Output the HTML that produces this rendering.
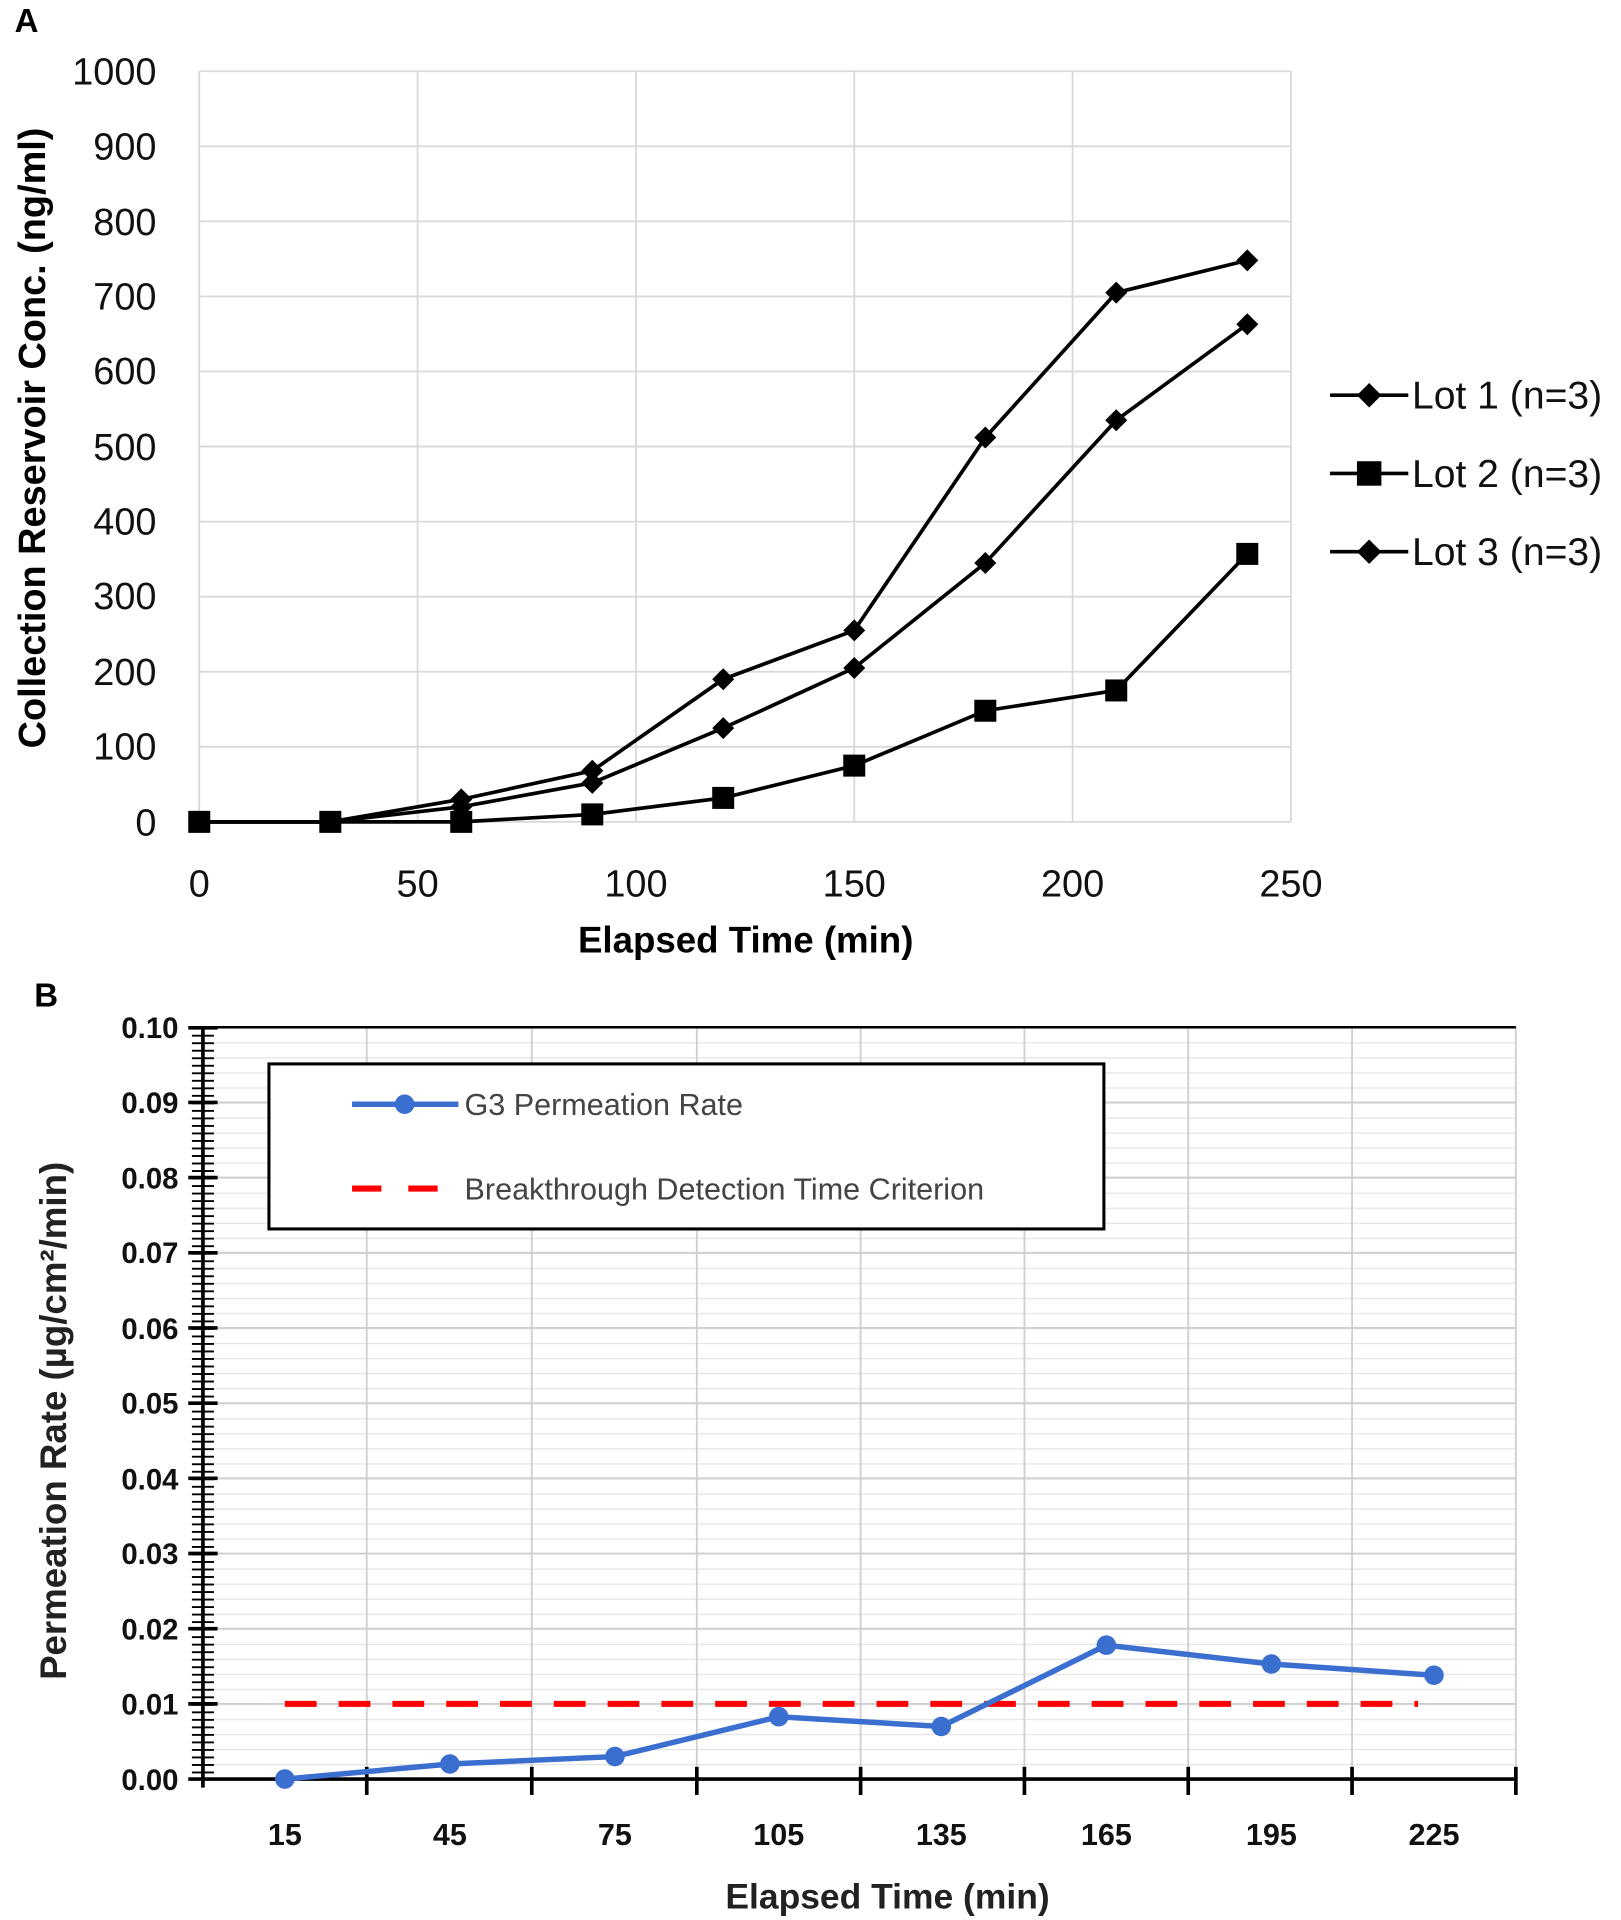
<!DOCTYPE html>
<html><head><meta charset="utf-8"><style>html,body{margin:0;padding:0;background:#fff}svg{display:block}</style></head>
<body>
<svg width="1621" height="1920" viewBox="0 0 1326 1570" xmlns="http://www.w3.org/2000/svg" font-family="Liberation Sans, sans-serif">
<defs>
<pattern id="yt" x="0" y="1455" width="20" height="6.15" patternUnits="userSpaceOnUse"><line x1="0" y1="0.5" x2="20" y2="0.5" stroke="#000" stroke-width="2"/></pattern>
<pattern id="mg" x="0" y="1455" width="1100" height="12.3" patternUnits="userSpaceOnUse"><line x1="0" y1="0.5" x2="1100" y2="0.5" stroke="#e4e4e4" stroke-width="1"/></pattern>
</defs>
<rect width="1326" height="1570" fill="#fff"/>
<!-- Chart A -->
<text x="12" y="26" font-size="27" font-weight="bold">A</text>
<g stroke="#d9d9d9" stroke-width="1.5">
<line x1="163" y1="58" x2="1056" y2="58"/><line x1="163" y1="119.4" x2="1056" y2="119.4"/><line x1="163" y1="180.8" x2="1056" y2="180.8"/><line x1="163" y1="242.2" x2="1056" y2="242.2"/><line x1="163" y1="303.6" x2="1056" y2="303.6"/><line x1="163" y1="365" x2="1056" y2="365"/><line x1="163" y1="426.4" x2="1056" y2="426.4"/><line x1="163" y1="487.8" x2="1056" y2="487.8"/><line x1="163" y1="549.2" x2="1056" y2="549.2"/><line x1="163" y1="610.6" x2="1056" y2="610.6"/><line x1="163" y1="672" x2="1056" y2="672"/>
<line x1="163" y1="58" x2="163" y2="672"/><line x1="341.6" y1="58" x2="341.6" y2="672"/><line x1="520.2" y1="58" x2="520.2" y2="672"/><line x1="698.8" y1="58" x2="698.8" y2="672"/><line x1="877.4" y1="58" x2="877.4" y2="672"/><line x1="1056" y1="58" x2="1056" y2="672"/>
</g>
<g font-size="31" text-anchor="end" fill="#111">
<text x="128" y="69">1000</text><text x="128" y="130">900</text><text x="128" y="192">800</text><text x="128" y="253">700</text><text x="128" y="314">600</text><text x="128" y="376">500</text><text x="128" y="437">400</text><text x="128" y="498">300</text><text x="128" y="560">200</text><text x="128" y="621">100</text><text x="128" y="683">0</text>
</g>
<g font-size="31" text-anchor="middle" fill="#111">
<text x="163" y="733">0</text><text x="341.6" y="733">50</text><text x="520.2" y="733">100</text><text x="698.8" y="733">150</text><text x="877.4" y="733">200</text><text x="1056" y="733">250</text>
</g>
<text x="610" y="779" font-size="30" font-weight="bold" text-anchor="middle">Elapsed Time (min)</text>
<text transform="translate(37,358) rotate(-90)" font-size="31" font-weight="bold" text-anchor="middle">Collection Reservoir Conc. (ng/ml)</text>
<g fill="none" stroke="#000" stroke-width="3">
<polyline points="163,672 270.2,672 377.3,653.6 484.5,630.2 591.6,555.3 698.8,515.4 806,357.6 913.1,239.1 1020.3,212.7"/>
<polyline points="163,672 270.2,672 377.3,659.7 484.5,640.1 591.6,595.3 698.8,546.1 806,460.2 913.1,343.5 1020.3,264.9"/>
<polyline points="163,672 270.2,672 377.3,672 484.5,665.9 591.6,652.4 698.8,626 806,581.1 913.1,564.5 1020.3,452.8"/>
</g>
<g fill="#000">
<path d="M163,663l9,9l-9,9l-9,-9z M270.2,663l9,9l-9,9l-9,-9z M377.3,644.6l9,9l-9,9l-9,-9z M484.5,621.2l9,9l-9,9l-9,-9z M591.6,546.3l9,9l-9,9l-9,-9z M698.8,506.4l9,9l-9,9l-9,-9z M806,348.6l9,9l-9,9l-9,-9z M913.1,230.1l9,9l-9,9l-9,-9z M1020.3,203.7l9,9l-9,9l-9,-9z"/>
<path d="M377.3,650.7l9,9l-9,9l-9,-9z M484.5,631.1l9,9l-9,9l-9,-9z M591.6,586.3l9,9l-9,9l-9,-9z M698.8,537.1l9,9l-9,9l-9,-9z M806,451.2l9,9l-9,9l-9,-9z M913.1,334.5l9,9l-9,9l-9,-9z M1020.3,255.9l9,9l-9,9l-9,-9z"/>
<rect x="154" y="663" width="18" height="18"/><rect x="261.2" y="663" width="18" height="18"/><rect x="368.3" y="663" width="18" height="18"/><rect x="475.5" y="656.9" width="18" height="18"/><rect x="582.6" y="643.4" width="18" height="18"/><rect x="689.8" y="617" width="18" height="18"/><rect x="797" y="572.1" width="18" height="18"/><rect x="904.1" y="555.5" width="18" height="18"/><rect x="1011.3" y="443.8" width="18" height="18"/>
</g>
<g stroke="#000" stroke-width="3"><line x1="1088" y1="323" x2="1152" y2="323"/><line x1="1088" y1="387" x2="1152" y2="387"/><line x1="1088" y1="451" x2="1152" y2="451"/></g>
<path d="M1120,313l10,10l-10,10l-10,-10z M1120,441l10,10l-10,10l-10,-10z"/>
<rect x="1110" y="377" width="20" height="20"/>
<g font-size="32" fill="#111"><text x="1155" y="334">Lot 1 (n=3)</text><text x="1155" y="398">Lot 2 (n=3)</text><text x="1155" y="462">Lot 3 (n=3)</text></g>
<!-- Chart B -->
<text x="28" y="823" font-size="27" font-weight="bold">B</text>
<rect x="166" y="840" width="1074" height="615" fill="url(#mg)"/>
<g stroke="#cfcfcf" stroke-width="1.5">
<line x1="166" y1="901.5" x2="1240" y2="901.5"/><line x1="166" y1="963" x2="1240" y2="963"/><line x1="166" y1="1024.5" x2="1240" y2="1024.5"/><line x1="166" y1="1086" x2="1240" y2="1086"/><line x1="166" y1="1147.5" x2="1240" y2="1147.5"/><line x1="166" y1="1209" x2="1240" y2="1209"/><line x1="166" y1="1270.5" x2="1240" y2="1270.5"/><line x1="166" y1="1332" x2="1240" y2="1332"/><line x1="166" y1="1393.5" x2="1240" y2="1393.5"/>
<line x1="300" y1="840" x2="300" y2="1455"/><line x1="435" y1="840" x2="435" y2="1455"/><line x1="570" y1="840" x2="570" y2="1455"/><line x1="704" y1="840" x2="704" y2="1455"/><line x1="838" y1="840" x2="838" y2="1455"/><line x1="972" y1="840" x2="972" y2="1455"/><line x1="1106" y1="840" x2="1106" y2="1455"/><line x1="1240" y1="840" x2="1240" y2="1455"/>
</g>
<line x1="166" y1="840" x2="1240" y2="840" stroke="#000" stroke-width="2"/>
<rect x="157" y="840" width="18" height="616" fill="url(#yt)"/>
<g stroke="#000" stroke-width="3">
<line x1="166" y1="840" x2="166" y2="1462"/><line x1="154" y1="1455" x2="1240" y2="1455"/>
<line x1="154" y1="840.5" x2="178" y2="840.5"/><line x1="154" y1="901.5" x2="178" y2="901.5"/><line x1="154" y1="963" x2="178" y2="963"/><line x1="154" y1="1024.5" x2="178" y2="1024.5"/><line x1="154" y1="1086" x2="178" y2="1086"/><line x1="154" y1="1147.5" x2="178" y2="1147.5"/><line x1="154" y1="1209" x2="178" y2="1209"/><line x1="154" y1="1270.5" x2="178" y2="1270.5"/><line x1="154" y1="1332" x2="178" y2="1332"/><line x1="154" y1="1393.5" x2="178" y2="1393.5"/>
<line x1="300" y1="1445" x2="300" y2="1468"/><line x1="435" y1="1445" x2="435" y2="1468"/><line x1="570" y1="1445" x2="570" y2="1468"/><line x1="704" y1="1445" x2="704" y2="1468"/><line x1="838" y1="1445" x2="838" y2="1468"/><line x1="972" y1="1445" x2="972" y2="1468"/><line x1="1106" y1="1445" x2="1106" y2="1468"/><line x1="1240" y1="1445" x2="1240" y2="1468"/>
</g>
<g font-size="24" font-weight="bold" text-anchor="end" fill="#111">
<text x="146" y="849">0.10</text><text x="146" y="910">0.09</text><text x="146" y="972">0.08</text><text x="146" y="1033">0.07</text><text x="146" y="1095">0.06</text><text x="146" y="1156">0.05</text><text x="146" y="1218">0.04</text><text x="146" y="1279">0.03</text><text x="146" y="1341">0.02</text><text x="146" y="1402">0.01</text><text x="146" y="1464">0.00</text>
</g>
<g font-size="25" font-weight="bold" text-anchor="middle" fill="#111">
<text x="233" y="1509">15</text><text x="368" y="1509">45</text><text x="503" y="1509">75</text><text x="637" y="1509">105</text><text x="770" y="1509">135</text><text x="905" y="1509">165</text><text x="1040" y="1509">195</text><text x="1173" y="1509">225</text>
</g>
<text x="726" y="1561" font-size="29" font-weight="bold" text-anchor="middle" fill="#222">Elapsed Time (min)</text>
<text transform="translate(54,1162) rotate(-90)" font-size="30" font-weight="bold" text-anchor="middle" fill="#222">Permeation Rate (µg/cm²/min)</text>
<line x1="233" y1="1393.5" x2="1160" y2="1393.5" stroke="#f00" stroke-width="5" stroke-dasharray="26,18"/>
<polyline points="233,1455 368,1442.7 503,1436.6 637,1404 770,1412 905,1345.5 1040,1360.9 1173,1370.1" fill="none" stroke="#3a6fd0" stroke-width="4.5"/>
<g fill="#3a6fd0"><circle cx="233" cy="1455" r="8"/><circle cx="368" cy="1442.7" r="8"/><circle cx="503" cy="1436.6" r="8"/><circle cx="637" cy="1404" r="8"/><circle cx="770" cy="1412" r="8"/><circle cx="905" cy="1345.5" r="8"/><circle cx="1040" cy="1360.9" r="8"/><circle cx="1173" cy="1370.1" r="8"/></g>
<rect x="220" y="870" width="683" height="135" fill="#fff" stroke="#000" stroke-width="2.5"/>
<line x1="288" y1="903" x2="375" y2="903" stroke="#3a6fd0" stroke-width="4.5"/><circle cx="331" cy="903" r="8" fill="#3a6fd0"/>
<line x1="288" y1="972" x2="358" y2="972" stroke="#f00" stroke-width="5" stroke-dasharray="24,22"/>
<g font-size="25" fill="#444"><text x="380" y="912">G3 Permeation Rate</text><text x="380" y="981">Breakthrough Detection Time Criterion</text></g>
</svg>
</body></html>
